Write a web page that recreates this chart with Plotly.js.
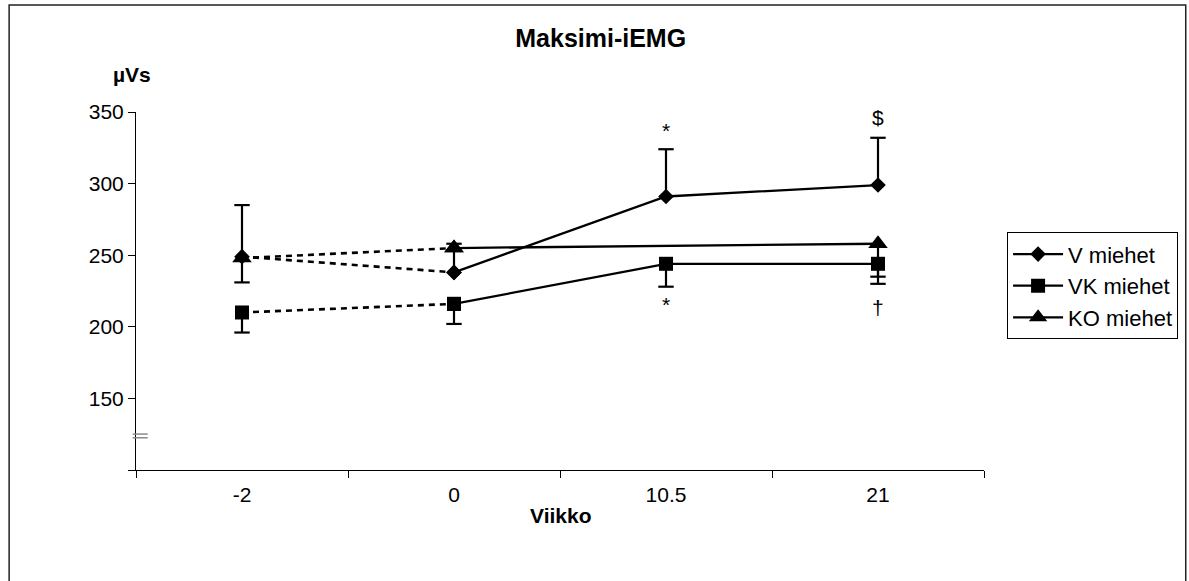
<!DOCTYPE html>
<html>
<head>
<meta charset="utf-8">
<script src="https://cdn.plot.ly/plotly-3.0.1.min.js"></script>
<style>
  html, body { margin: 0; padding: 0; background: #ffffff; }
  #chart { width: 1189px; height: 581px; }
</style>
</head>
<body>
<div id="chart"></div>
<script>
// ---- data ----
const categories = ['-2', '0', '10.5', '21'];
const seriesNames = ['V miehet', 'VK miehet', 'KO miehet'];
const vMean = [249, 238, 291, 299];
const vErrPlus = [36, 20, 33, 33];
const vkMean = [210, 216, 244, 244];
const vkErrMinus = [14, 14, 16, 14];
const koMean = [248, 255, null, 258];
const koErrMinus = [17, 0, null, 23];
const yTickVals = [100, 150, 200, 250, 300, 350];
const yTickText = ['', '150', '200', '250', '300', '350'];
// significance marks: [category, text, series mean, series error]
const marksAbove = [['10.5', '*', vMean, vErrPlus], ['21', '$', vMean, vErrPlus]];
const marksBelow = [['10.5', '*', vkMean, vkErrMinus], ['21', '\u2020', koMean, koErrMinus]];

const FONT = 'Liberation Sans, Arial, Helvetica, sans-serif';
const BLACK = '#000000';

function capTrace(mean, err, dir) {
  const xs = [], ys = [], errs = [];
  for (let i = 0; i < categories.length; i++) {
    if (mean[i] == null || !err[i]) continue;
    xs.push(categories[i]);
    ys.push(mean[i] + dir * err[i]);
    errs.push(err[i]);
  }
  const zeros = errs.map(() => 0);
  return {
    type: 'scatter', mode: 'markers', x: xs, y: ys, showlegend: false, hoverinfo: 'skip',
    marker: { symbol: 'line-ew', size: 11, color: BLACK, line: { color: BLACK, width: 2.2 } },
    error_y: {
      type: 'data', symmetric: false,
      array: dir > 0 ? zeros : errs,
      arrayminus: dir > 0 ? errs : zeros,
      width: 0, thickness: 2.2, color: BLACK
    }
  };
}

function seriesTraces(name, mean, symbol, size) {
  const marker = { symbol: symbol, size: size, color: BLACK, line: { width: 0 } };
  const dashed = {
    type: 'scatter', mode: 'lines+markers', name: name, showlegend: false, hoverinfo: 'skip',
    x: categories.slice(0, 2), y: mean.slice(0, 2),
    line: { color: BLACK, width: 2.6, dash: '6px,5px' }, marker: marker
  };
  const solid = {
    type: 'scatter', mode: 'lines+markers', name: name, showlegend: true,
    x: categories.slice(1), y: mean.slice(1), connectgaps: true,
    line: { color: BLACK, width: 2.3 }, marker: marker
  };
  return [dashed, solid];
}

const traces = [
  capTrace(vMean, vErrPlus, 1),
  capTrace(vkMean, vkErrMinus, -1),
  capTrace(koMean, koErrMinus, -1),
  ...seriesTraces(seriesNames[0], vMean, 'diamond', 12),
  ...seriesTraces(seriesNames[1], vkMean, 'square', 14),
  ...seriesTraces(seriesNames[2], koMean, 'triangle-up', 17)
];

const annotations = [];
marksAbove.forEach(([cat, txt, mean, err]) => {
  const i = categories.indexOf(cat);
  annotations.push({
    x: i, y: mean[i] + err[i], xref: 'x', yref: 'y', text: txt, showarrow: false,
    yanchor: 'bottom', yshift: txt === '*' ? 5 : 7,
    font: { family: FONT, size: 21, color: BLACK }
  });
});
marksBelow.forEach(([cat, txt, mean, err]) => {
  const i = categories.indexOf(cat);
  annotations.push({
    x: i, y: mean[i] - err[i], xref: 'x', yref: 'y', text: txt, showarrow: false,
    yanchor: 'top', yshift: txt === '*' ? -4 : -17,
    font: { family: FONT, size: 21, color: BLACK }
  });
});
annotations.push({
  x: -0.005, y: 1.106, xref: 'paper', yref: 'paper', text: '<b>\u00b5Vs</b>', showarrow: false,
  xanchor: 'center', yanchor: 'middle', font: { family: FONT, size: 21, color: BLACK }
});
annotations.push({
  x: 0.5, y: -0.128, xref: 'paper', yref: 'paper', text: '<b>Viikko</b>', showarrow: false,
  xanchor: 'center', yanchor: 'middle', font: { family: FONT, size: 21, color: BLACK }
});

const layout = {
  width: 1189, height: 581,
  margin: { l: 136, r: 204, t: 112, b: 111 },
  paper_bgcolor: '#ffffff', plot_bgcolor: '#ffffff',
  font: { family: FONT, size: 21, color: BLACK },
  title: {
    text: '<b>Maksimi-iEMG</b>', font: { family: FONT, size: 25, color: BLACK },
    xref: 'paper', x: 0.548, xanchor: 'center', yref: 'container', y: 0.935, yanchor: 'middle'
  },
  xaxis: {
    type: 'category', categoryorder: 'array', categoryarray: categories,
    range: [-0.5, 3.5], tickson: 'boundaries', ticks: 'outside', ticklen: 7, tickwidth: 1,
    tickcolor: BLACK, showline: true, linecolor: BLACK, linewidth: 1, showgrid: false, zeroline: false,
    tickfont: { family: FONT, size: 21, color: BLACK }, ticklabelstandoff: 6,
    fixedrange: true
  },
  yaxis: {
    range: [100, 350], tickmode: 'array', tickvals: yTickVals, ticktext: yTickText,
    ticks: 'outside', ticklen: 7, tickwidth: 1, tickcolor: BLACK,
    showline: true, linecolor: BLACK, linewidth: 1, showgrid: false, zeroline: false,
    tickfont: { family: FONT, size: 21, color: BLACK }, fixedrange: true
  },
  legend: {
    x: 1.026, xanchor: 'left', y: 0.664, yanchor: 'top',
    bordercolor: BLACK, borderwidth: 1, bgcolor: '#ffffff',
    font: { family: FONT, size: 22, color: BLACK }, itemwidth: 50
  },
  annotations: annotations,
  shapes: [
    { type: 'rect', xref: 'paper', yref: 'paper', x0: -0.1496, x1: 1.2379, y0: -0.33, y1: 1.299,
      line: { color: '#222222', width: 1.5 }, fillcolor: 'rgba(0,0,0,0)', layer: 'below' },
    { type: 'line', xref: 'paper', yref: 'y', x0: -0.0039, x1: 0.0138, y0: 125.1, y1: 125.1,
      line: { color: '#8a8a8a', width: 1.5 } },
    { type: 'line', xref: 'paper', yref: 'y', x0: -0.0039, x1: 0.0138, y0: 122.5, y1: 122.5,
      line: { color: '#8a8a8a', width: 1.5 } }
  ],
  showlegend: true
};

Plotly.newPlot('chart', traces, layout, { displayModeBar: false, staticPlot: true });
</script>
</body>
</html>
